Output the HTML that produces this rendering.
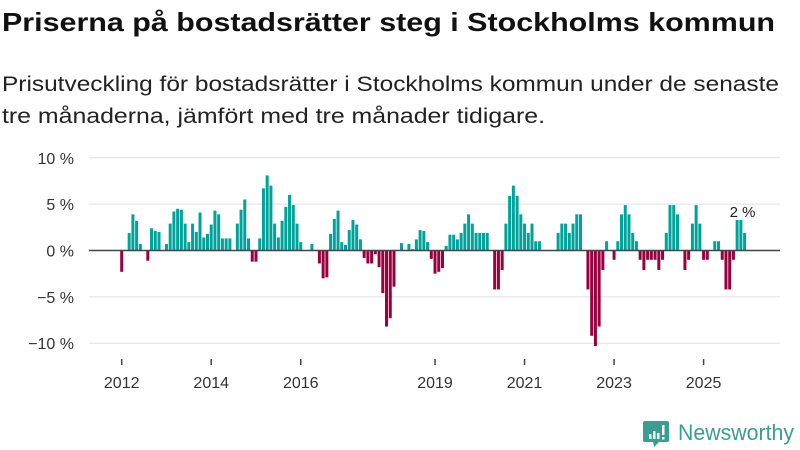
<!DOCTYPE html>
<html><head><meta charset="utf-8"><style>
html,body{margin:0;padding:0;background:#fff;width:800px;height:450px;overflow:hidden}
svg{display:block;font-family:"Liberation Sans",sans-serif}
</style></head><body>
<svg id="chart" width="800" height="450" viewBox="0 0 800 450">
<text x="2" y="31" font-size="26" font-weight="bold" fill="#111" textLength="773" lengthAdjust="spacingAndGlyphs">Priserna på bostadsrätter steg i Stockholms kommun</text>
<text x="2" y="91" font-size="21" fill="#222" textLength="777" lengthAdjust="spacingAndGlyphs">Prisutveckling för bostadsrätter i Stockholms kommun under de senaste</text>
<text x="2" y="123" font-size="21" fill="#222" textLength="543" lengthAdjust="spacingAndGlyphs">tre månaderna, jämfört med tre månader tidigare.</text>
<g id="grid"></g>
<g id="bars"></g>
<g id="xaxis"></g>
<g id="yaxis"></g>
<g>
<path d="M645 421 h22 a2 2 0 0 1 2 2 v17 a2 2 0 0 1 -2 2 h-8 l-5 5 l-1 -5 h-8 a2 2 0 0 1 -2 -2 v-17 a2 2 0 0 1 2 -2z" fill="#3a9d91"/>
<rect x="649" y="434" width="2.5" height="5" fill="#fff"/><rect x="653" y="431" width="2.5" height="8" fill="#fff"/><rect x="657" y="433" width="2.5" height="6" fill="#fff"/><rect x="662" y="425" width="2.5" height="10" fill="#fff"/><rect x="662" y="437" width="2.5" height="2.5" fill="#fff"/>
<text x="678" y="440" font-size="22" fill="#3a9d91" textLength="116" lengthAdjust="spacingAndGlyphs">Newsworthy</text>
</g>
</svg>
<script>
const startYear = 2012;
const values = [-2.3,null,1.9,3.9,3.2,0.7,null,-1.1,2.4,2.1,2.0,null,
0.7,2.9,4.2,4.5,4.4,2.9,0.9,2.9,2.0,4.1,1.4,1.8,
2.8,4.3,3.9,1.3,1.3,1.3,null,2.9,4.4,5.5,1.3,-1.2,
-1.2,1.3,6.7,8.1,7.0,2.9,1.4,3.2,4.7,6.0,4.9,2.9,
0.9,null,null,0.7,null,-1.4,-3.0,-2.9,1.8,3.4,4.3,0.9,
0.6,2.2,3.3,2.8,1.2,-0.8,-1.4,-1.4,-0.4,-1.8,-4.6,-8.2,
-7.3,-3.9,null,0.8,null,0.7,0.15,1.2,2.2,2.1,0.9,-0.9,
-2.5,-2.3,-1.9,0.5,1.7,1.7,1.2,1.9,2.9,3.9,2.9,1.9,
1.9,1.9,1.9,null,-4.2,-4.2,-2.1,2.9,5.9,7.0,5.9,3.9,
2.9,1.9,2.9,1.0,1.0,null,null,null,null,1.9,2.9,2.9,
1.9,2.9,3.9,3.9,null,-4.2,-9.2,-10.3,-8.2,-2.1,1.0,null,
-1.0,1.0,3.9,4.9,3.9,1.9,1.0,-1.0,-2.1,-1.0,-1.0,-1.0,
-2.1,-1.0,1.9,4.9,4.9,3.9,null,-2.1,-1.0,2.9,4.9,2.9,
-1.0,-1.0,null,1.0,1.0,-1.0,-4.2,-4.2,-1.0,3.3,3.3,1.9];
const yTicks = [10,5,0,-5,-10];
const xTickYears = [2012,2014,2016,2019,2021,2023,2025];
const lastLabel = "2 %";

const NS="http://www.w3.org/2000/svg";
const x0=121.7, pitch=3.73;
function xScale(i){return x0+i*pitch;}
function yScale(v){return 250.5 - v*9.27;}
const grid=document.getElementById('grid'), bars=document.getElementById('bars'),
 xa=document.getElementById('xaxis'), ya=document.getElementById('yaxis');
function mk(t,a,p){const e=document.createElementNS(NS,t);for(const k in a)e.setAttribute(k,a[k]);p.appendChild(e);return e;}
yTicks.forEach(v=>{
  if(v!==0){const l=mk('line',{x1:89,x2:780,y1:yScale(v),y2:yScale(v),stroke:'#e0e0e0','stroke-width':1},grid);
  
  }
  const t=mk('text',{x:74,y:yScale(v)+6,'font-size':16,'text-anchor':'end',fill:'#333'},ya);
  
  
  t.textContent=(v<0?'\u2212'+(-v):v)+' %';
});
values.forEach((v,i)=>{
  if(v===null)return;
  const y=yScale(Math.max(v,0)), h=Math.abs(yScale(v)-yScale(0));
  const r=mk('rect',{x:xScale(i)-1.5,y:y,width:3,height:Math.max(h,0.5),fill:v>=0?'#00a39a':'#99003d'},bars);
  
  
});
const z=mk('line',{x1:89,x2:780,y1:yScale(0),y2:yScale(0),stroke:'#444','stroke-width':1.5},bars);


xTickYears.forEach(yr=>{
  const x=xScale((yr-startYear)*12);
  const l=mk('line',{x1:x,x2:x,y1:359,y2:365,stroke:'#444','stroke-width':1.5},xa);
  
  
  const t=mk('text',{x:x,y:388,'font-size':16,'text-anchor':'middle',fill:'#333'},xa);
  
  
  t.textContent=yr;
});
const li=values.length-1;
const lb=mk('text',{x:xScale(li)-2,y:yScale(values[li])-16,'font-size':15,'text-anchor':'middle',fill:'#222',stroke:'#fff','stroke-width':2,'paint-order':'stroke'},bars);


lb.textContent=lastLabel;
</script>
</body></html>
